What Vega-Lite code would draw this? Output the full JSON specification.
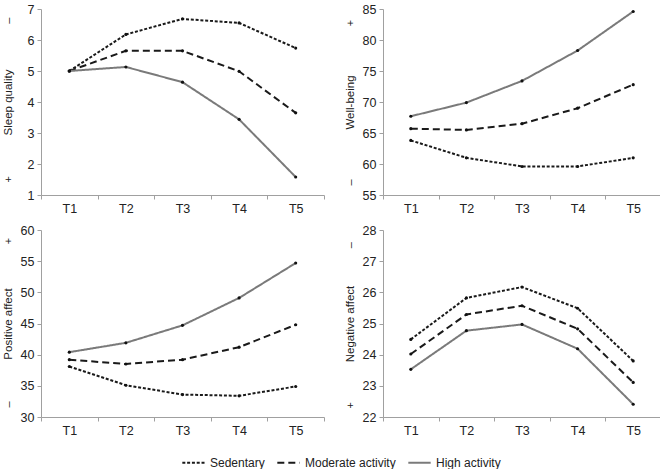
{
  "$schema": "https://vega.github.io/schema/vega-lite/v6.json",
  "padding": {"left": 2, "top": 3, "right": 0, "bottom": 0},
  "background": "white",
  "datasets": {
    "all": [
      {"m":"sleep","t":"T1","g":"Sedentary","v":5.0},{"m":"sleep","t":"T2","g":"Sedentary","v":6.18},{"m":"sleep","t":"T3","g":"Sedentary","v":6.68},{"m":"sleep","t":"T4","g":"Sedentary","v":6.55},{"m":"sleep","t":"T5","g":"Sedentary","v":5.74},
      {"m":"sleep","t":"T1","g":"Moderate activity","v":5.0},{"m":"sleep","t":"T2","g":"Moderate activity","v":5.65},{"m":"sleep","t":"T3","g":"Moderate activity","v":5.65},{"m":"sleep","t":"T4","g":"Moderate activity","v":4.99},{"m":"sleep","t":"T5","g":"Moderate activity","v":3.65},
      {"m":"sleep","t":"T1","g":"High activity","v":5.0},{"m":"sleep","t":"T2","g":"High activity","v":5.13},{"m":"sleep","t":"T3","g":"High activity","v":4.64},{"m":"sleep","t":"T4","g":"High activity","v":3.44},{"m":"sleep","t":"T5","g":"High activity","v":1.58},
      {"m":"well","t":"T1","g":"Sedentary","v":63.8},{"m":"well","t":"T2","g":"Sedentary","v":61.0},{"m":"well","t":"T3","g":"Sedentary","v":59.6},{"m":"well","t":"T4","g":"Sedentary","v":59.6},{"m":"well","t":"T5","g":"Sedentary","v":61.0},
      {"m":"well","t":"T1","g":"Moderate activity","v":65.7},{"m":"well","t":"T2","g":"Moderate activity","v":65.5},{"m":"well","t":"T3","g":"Moderate activity","v":66.5},{"m":"well","t":"T4","g":"Moderate activity","v":69.0},{"m":"well","t":"T5","g":"Moderate activity","v":72.8},
      {"m":"well","t":"T1","g":"High activity","v":67.7},{"m":"well","t":"T2","g":"High activity","v":69.9},{"m":"well","t":"T3","g":"High activity","v":73.4},{"m":"well","t":"T4","g":"High activity","v":78.3},{"m":"well","t":"T5","g":"High activity","v":84.6},
      {"m":"pos","t":"T1","g":"Sedentary","v":38.1},{"m":"pos","t":"T2","g":"Sedentary","v":35.1},{"m":"pos","t":"T3","g":"Sedentary","v":33.6},{"m":"pos","t":"T4","g":"Sedentary","v":33.4},{"m":"pos","t":"T5","g":"Sedentary","v":34.9},
      {"m":"pos","t":"T1","g":"Moderate activity","v":39.2},{"m":"pos","t":"T2","g":"Moderate activity","v":38.5},{"m":"pos","t":"T3","g":"Moderate activity","v":39.2},{"m":"pos","t":"T4","g":"Moderate activity","v":41.2},{"m":"pos","t":"T5","g":"Moderate activity","v":44.8},
      {"m":"pos","t":"T1","g":"High activity","v":40.4},{"m":"pos","t":"T2","g":"High activity","v":41.9},{"m":"pos","t":"T3","g":"High activity","v":44.7},{"m":"pos","t":"T4","g":"High activity","v":49.1},{"m":"pos","t":"T5","g":"High activity","v":54.7},
      {"m":"neg","t":"T1","g":"Sedentary","v":24.49},{"m":"neg","t":"T2","g":"Sedentary","v":25.82},{"m":"neg","t":"T3","g":"Sedentary","v":26.17},{"m":"neg","t":"T4","g":"Sedentary","v":25.49},{"m":"neg","t":"T5","g":"Sedentary","v":23.8},
      {"m":"neg","t":"T1","g":"Moderate activity","v":24.02},{"m":"neg","t":"T2","g":"Moderate activity","v":25.29},{"m":"neg","t":"T3","g":"Moderate activity","v":25.57},{"m":"neg","t":"T4","g":"Moderate activity","v":24.83},{"m":"neg","t":"T5","g":"Moderate activity","v":23.11},
      {"m":"neg","t":"T1","g":"High activity","v":23.53},{"m":"neg","t":"T2","g":"High activity","v":24.77},{"m":"neg","t":"T3","g":"High activity","v":24.97},{"m":"neg","t":"T4","g":"High activity","v":24.19},{"m":"neg","t":"T5","g":"High activity","v":22.41}
    ]
  },
  "vconcat": [
    {
      "hconcat": [
        {
          "width": 283, "height": 186,
          "data": {"name": "all"},
          "transform": [{"filter": "datum.m === 'sleep'"}],
          "resolve": {"axis": {"y": "independent"}},
          "layer": [
            {
              "mark": {"type": "line"},
              "encoding": {
                "x": {"field": "t", "type": "ordinal", "scale": {"type": "band", "paddingInner": 0, "paddingOuter": 0}, "axis": {"title": null, "labelAngle": 0, "tickBand": "extent"}},
                "y": {"field": "v", "type": "quantitative", "scale": {"domain": [1, 7], "nice": false, "zero": false}, "axis": {"title": "Sleep quality", "values": [1,2,3,4,5,6,7]}},
                "color": {"field": "g", "type": "nominal", "scale": {"domain": ["Sedentary","Moderate activity","High activity"], "range": ["#1a1a1a","#1a1a1a","#7a7a7a"]}, "legend": {"title": null}},
                "strokeDash": {"field": "g", "type": "nominal", "scale": {"domain": ["Sedentary","Moderate activity","High activity"], "range": [[3,1.8],[7,4],[1,0]]}, "legend": {"title": null}},
                "strokeWidth": {"field": "g", "type": "nominal", "scale": {"domain": ["Sedentary","Moderate activity","High activity"], "range": [2,2,1.1]}, "legend": {"title": null}}
              }
            },
            {
              "mark": {"type": "point", "filled": true, "size": 10, "opacity": 1, "color": "#111"},
              "encoding": {
                "x": {"field": "t", "type": "ordinal"},
                "y": {"field": "v", "type": "quantitative", "axis": {"orient": "left", "values": [6.64, 1.52], "labelExpr": "datum.value > 4 ? '–' : '+'", "offset": 33, "domain": false, "ticks": false, "grid": false, "title": null, "labelAngle": -90, "labelAlign": "center", "labelBaseline": "middle", "labelFontSize": 11, "labelPadding": 0}}
              }
            }
          ]
        },
        {
          "width": 278, "height": 186,
          "data": {"name": "all"},
          "transform": [{"filter": "datum.m === 'well'"}],
          "resolve": {"axis": {"y": "independent"}},
          "layer": [
            {
              "mark": {"type": "line"},
              "encoding": {
                "x": {"field": "t", "type": "ordinal", "scale": {"type": "band", "paddingInner": 0, "paddingOuter": 0}, "axis": {"title": null, "labelAngle": 0, "tickBand": "extent"}},
                "y": {"field": "v", "type": "quantitative", "scale": {"domain": [55, 85], "nice": false, "zero": false}, "axis": {"title": "Well-being", "values": [55,60,65,70,75,80,85]}},
                "color": {"field": "g", "type": "nominal", "scale": {"domain": ["Sedentary","Moderate activity","High activity"], "range": ["#1a1a1a","#1a1a1a","#7a7a7a"]}, "legend": {"title": null}},
                "strokeDash": {"field": "g", "type": "nominal", "scale": {"domain": ["Sedentary","Moderate activity","High activity"], "range": [[3,1.8],[7,4],[1,0]]}, "legend": {"title": null}},
                "strokeWidth": {"field": "g", "type": "nominal", "scale": {"domain": ["Sedentary","Moderate activity","High activity"], "range": [2,2,1.1]}, "legend": {"title": null}}
              }
            },
            {
              "mark": {"type": "point", "filled": true, "size": 10, "opacity": 1, "color": "#111"},
              "encoding": {
                "x": {"field": "t", "type": "ordinal"},
                "y": {"field": "v", "type": "quantitative", "axis": {"orient": "left", "values": [82.8, 57.1], "labelExpr": "datum.value > 70 ? '+' : '–'", "offset": 33, "domain": false, "ticks": false, "grid": false, "title": null, "labelAngle": -90, "labelAlign": "center", "labelBaseline": "middle", "labelFontSize": 11, "labelPadding": 0}}
              }
            }
          ]
        }
      ]
    },
    {
      "hconcat": [
        {
          "width": 283, "height": 187,
          "data": {"name": "all"},
          "transform": [{"filter": "datum.m === 'pos'"}],
          "resolve": {"axis": {"y": "independent"}},
          "layer": [
            {
              "mark": {"type": "line"},
              "encoding": {
                "x": {"field": "t", "type": "ordinal", "scale": {"type": "band", "paddingInner": 0, "paddingOuter": 0}, "axis": {"title": null, "labelAngle": 0, "tickBand": "extent"}},
                "y": {"field": "v", "type": "quantitative", "scale": {"domain": [30, 60], "nice": false, "zero": false}, "axis": {"title": "Positive affect", "values": [30,35,40,45,50,55,60]}},
                "color": {"field": "g", "type": "nominal", "scale": {"domain": ["Sedentary","Moderate activity","High activity"], "range": ["#1a1a1a","#1a1a1a","#7a7a7a"]}, "legend": {"title": null}},
                "strokeDash": {"field": "g", "type": "nominal", "scale": {"domain": ["Sedentary","Moderate activity","High activity"], "range": [[3,1.8],[7,4],[1,0]]}, "legend": {"title": null}},
                "strokeWidth": {"field": "g", "type": "nominal", "scale": {"domain": ["Sedentary","Moderate activity","High activity"], "range": [2,2,1.1]}, "legend": {"title": null}}
              }
            },
            {
              "mark": {"type": "point", "filled": true, "size": 10, "opacity": 1, "color": "#111"},
              "encoding": {
                "x": {"field": "t", "type": "ordinal"},
                "y": {"field": "v", "type": "quantitative", "axis": {"orient": "left", "values": [58.3, 32.1], "labelExpr": "datum.value > 45 ? '+' : '–'", "offset": 33, "domain": false, "ticks": false, "grid": false, "title": null, "labelAngle": -90, "labelAlign": "center", "labelBaseline": "middle", "labelFontSize": 11, "labelPadding": 0}}
              }
            }
          ]
        },
        {
          "width": 278, "height": 187,
          "data": {"name": "all"},
          "transform": [{"filter": "datum.m === 'neg'"}],
          "resolve": {"axis": {"y": "independent"}},
          "layer": [
            {
              "mark": {"type": "line"},
              "encoding": {
                "x": {"field": "t", "type": "ordinal", "scale": {"type": "band", "paddingInner": 0, "paddingOuter": 0}, "axis": {"title": null, "labelAngle": 0, "tickBand": "extent"}},
                "y": {"field": "v", "type": "quantitative", "scale": {"domain": [22, 28], "nice": false, "zero": false}, "axis": {"title": "Negative affect", "values": [22,23,24,25,26,27,28]}},
                "color": {"field": "g", "type": "nominal", "scale": {"domain": ["Sedentary","Moderate activity","High activity"], "range": ["#1a1a1a","#1a1a1a","#7a7a7a"]}, "legend": {"title": null}},
                "strokeDash": {"field": "g", "type": "nominal", "scale": {"domain": ["Sedentary","Moderate activity","High activity"], "range": [[3,1.8],[7,4],[1,0]]}, "legend": {"title": null}},
                "strokeWidth": {"field": "g", "type": "nominal", "scale": {"domain": ["Sedentary","Moderate activity","High activity"], "range": [2,2,1.1]}, "legend": {"title": null}}
              }
            },
            {
              "mark": {"type": "point", "filled": true, "size": 10, "opacity": 1, "color": "#111"},
              "encoding": {
                "x": {"field": "t", "type": "ordinal"},
                "y": {"field": "v", "type": "quantitative", "axis": {"orient": "left", "values": [27.53, 22.39], "labelExpr": "datum.value > 25 ? '–' : '+'", "offset": 33, "domain": false, "ticks": false, "grid": false, "title": null, "labelAngle": -90, "labelAlign": "center", "labelBaseline": "middle", "labelFontSize": 11, "labelPadding": 0}}
              }
            }
          ]
        }
      ]
    }
  ],
  "spacing": 9,
  "config": {
    "font": "Liberation Sans",
    "view": {"stroke": null},
    "concat": {"spacing": 19},
    "axis": {
      "grid": false,
      "domainColor": "#a0a0a0",
      "tickColor": "#a0a0a0",
      "tickSize": 4,
      "labelFont": "Liberation Sans",
      "labelFontSize": 12.5,
      "labelColor": "#222222",
      "titleFont": "Liberation Sans",
      "titleFontSize": 11.5,
      "titleFontWeight": "normal",
      "titleColor": "#222222",
      "labelPadding": 3
    },
    "axisY": {
      "titleX": -33,
      "titleBaseline": "middle"
    },
    "legend": {
      "orient": "none",
      "legendX": 140,
      "legendY": 441,
      "direction": "horizontal",
      "labelFont": "Liberation Sans",
      "labelFontSize": 12,
      "labelColor": "#222222",
      "symbolType": "stroke",
      "symbolSize": 500,
      "symbolStrokeColor": "#1a1a1a",
      "columnPadding": 8
    }
  }
}
